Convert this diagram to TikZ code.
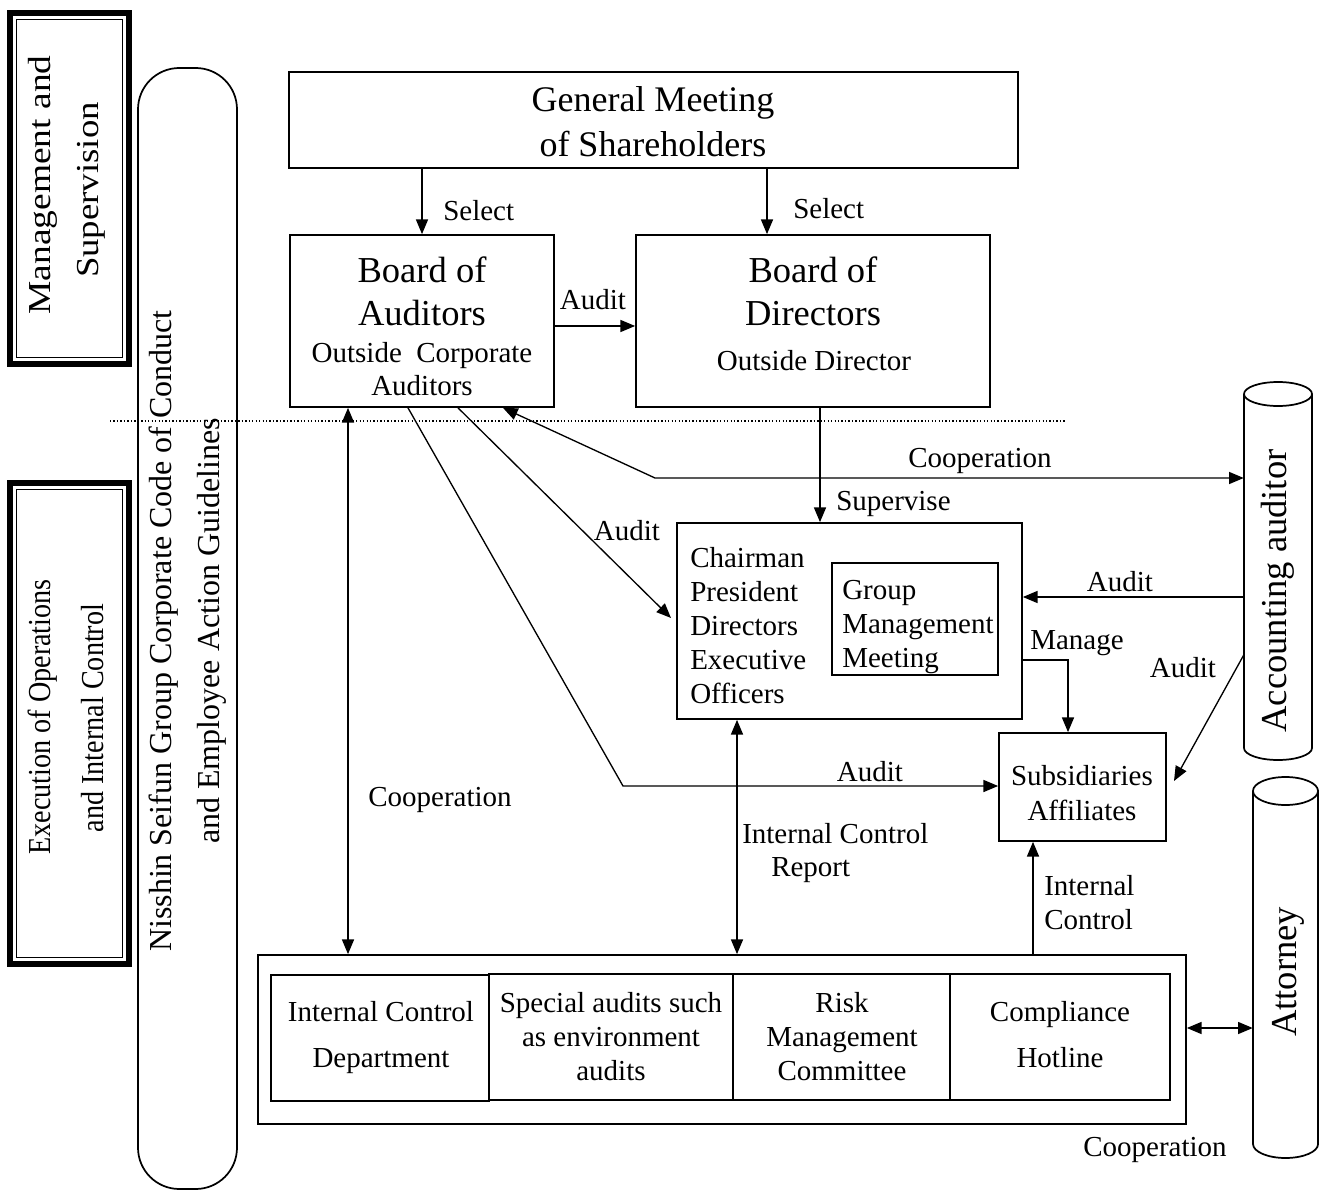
\documentclass[tikz,border=0pt]{standalone}
\usepackage{fontspec}
\setmainfont{Liberation Serif}
\usetikzlibrary{arrows.meta,fit}
\begin{document}
\begin{tikzpicture}[x=0.75pt,y=-0.75pt,
  box/.style={draw, line width=1.3pt, inner sep=0pt},
  conn/.style={line width=1pt},
  >={Triangle[length=11pt,width=9pt]},
  small/.style={font=\fontsize{21.75}{25.5}\selectfont, inner sep=0pt, align=center},
  large/.style={font=\fontsize{27.4}{33}\selectfont, inner sep=0pt, align=center},
  sidelbl/.style={font=\fontsize{24}{30}\selectfont, inner sep=0pt, rotate=90},
  cyl/.style={line width=1.3pt}
]
\useasboundingbox (0,0) rectangle (1321,1191);

% ---- left frames ----
\draw[line width=4.5pt] (10,13) rectangle (129,364);
\draw[line width=0.8pt] (16.5,19.5) rectangle (122.5,357.5);
\node[sidelbl] (mgmt1) at (43,185) {\scalebox{1.17}[1]{Management and}};
\node[sidelbl] (mgmt2) at (91,190) {\scalebox{1.15}[1]{Supervision}};

\draw[line width=4.5pt] (10,483) rectangle (129,964);
\draw[line width=0.8pt] (16.5,489.5) rectangle (122.5,957.5);
\node[sidelbl] (exec1) at (43,717) {\scalebox{0.88}[1]{Execution of Operations}};
\node[sidelbl] (exec2) at (93,718) {\scalebox{0.88}[1]{and Internal Control}};

% ---- rounded code-of-conduct box ----
\draw[line width=1.3pt, rounded corners=31pt] (138,68) rectangle (237,1189);
\node[sidelbl, align=center, font=\fontsize{24}{36}\selectfont] (code) at (188,631) {Nisshin Seifun Group Corporate Code of Conduct\\and Employee Action Guidelines};

% ---- dotted separator ----
\draw[line width=0.9pt, dash pattern=on 1pt off 1.6pt] (110,421) -- (1065,421);

% ---- main boxes ----
\node[box, fit={(289,72) (1018,168)}] (gms) {};
\node[large, font=\fontsize{27}{33.75}\selectfont] (gmst) at (653,122) {General Meeting\\of Shareholders};

\node[box, fit={(290,235) (554,407)}] (boa) {};
\node[large, font=\fontsize{27.4}{32.25}\selectfont] (boat) at (422,291) {Board of\\Auditors};
\node[small, font=\fontsize{21.75}{24.75}\selectfont] (boas) at (422,369) {Outside\ \ Corporate\\Auditors};

\node[box, fit={(636,235) (990,407)}] (bod) {};
\node[large, font=\fontsize{27.4}{32.25}\selectfont] (bodt) at (813,291) {Board of\\Directors};
\node[small] (bods) at (814,361) {Outside Director};

\node[box, fit={(677,523) (1022,719)}] (chair) {};
\node[small, align=left, anchor=west] (chairt) at (690,626) {Chairman\\President\\Directors\\Executive\\Officers};
\node[box, fit={(832,563) (998,675)}] (gmm) {};
\node[small, align=left, anchor=west] (gmmt) at (842,627) {Group\\Management\\Meeting};

\node[box, fit={(999,733) (1166,841)}] (sub) {};
\node[small, font=\fontsize{21.75}{26.25}\selectfont] (subt) at (1082,793) {Subsidiaries\\Affiliates};

% ---- bottom block ----
\node[box, fit={(258,955) (1186,1124)}] (bot) {};
\node[box, fit={(271,975) (489,1101)}] (icd) {};
\node[small, font=\fontsize{21.75}{34.5}\selectfont] (icdt) at (381,1038) {Internal Control\\Department};
\node[box, fit={(489,974) (733,1100)}] (spa) {};
\node[small] (spat) at (611,1037) {Special audits such\\as environment\\audits};
\node[box, fit={(733,974) (950,1100)}] (rmc) {};
\node[small] (rmct) at (842,1037) {Risk\\Management\\Committee};
\node[box, fit={(950,974) (1170,1100)}] (cmp) {};
\node[small, font=\fontsize{21.75}{34.5}\selectfont] (cmpt) at (1060,1035) {Compliance\\Hotline};

% ---- cylinders ----
\node[fit={(1244,382) (1312,760)}, inner sep=0pt] (acc) {};
\draw[cyl] (1244,394) -- (1244,748) arc[start angle=180, end angle=360, x radius=25.5pt, y radius=9pt] -- (1312,394);
\draw[cyl] (1278,394) ellipse [x radius=25.5pt, y radius=9pt];
\node[large, rotate=90] (acct) at (1278,591) {Accounting auditor};

\node[fit={(1253,777) (1318,1158)}, inner sep=0pt] (att) {};
\draw[cyl] (1253,791) -- (1253,1144) arc[start angle=180, end angle=360, x radius=24.4pt, y radius=10.5pt] -- (1318,791);
\draw[cyl] (1285.5,791) ellipse [x radius=24.4pt, y radius=10.5pt];
\node[large, rotate=90] (attt) at (1288,972) {Attorney};

% ---- connectors ----
\draw[conn,->] (422,0 |- gms.south) -- (422,0 |- boa.north);
\node[small, anchor=west] (sel1) at (443,211) {Select};
\draw[conn,->] (767,0 |- gms.south) -- (767,0 |- bod.north);
\node[small, anchor=west] (sel2) at (793,209) {Select};

\draw[conn,->] (boa.east |- 0,326) -- (bod.west |- 0,326);
\node[small] (aud1) at (593,300) {Audit};

\draw[conn,->] (820,0 |- bod.south) -- (820,0 |- chair.north);
\node[small, anchor=west] (supv) at (836,504) {Supervise};

\draw[conn,<->] (503,0 |- boa.south) -- (655,478) -- (acc.west |- 0,478);
\node[small] (coop1) at (980,461) {Cooperation};

\draw[conn,->] (458,0 |- boa.south) -- (671,618);
\node[small] (aud2) at (627,531) {Audit};

\draw[conn,->] (408,0 |- boa.south) -- (623,786) -- (sub.west |- 0,786);
\node[small] (aud3) at (870,772) {Audit};

\draw[conn,<->] (348,0 |- boa.south) -- (348,0 |- bot.north);
\node[small] (coop2) at (440,800) {Cooperation};

\draw[conn,<->] (737,0 |- chair.south) -- (737,0 |- bot.north);
\node[small, anchor=west] (icr1) at (742,834) {Internal Control};
\node[small, anchor=west] (icr2) at (771,870) {Report};

\draw[conn,->] (chair.east |- 0,660) -- (1068,660) -- (1068,0 |- sub.north);
\node[small, anchor=west] (mng) at (1030,643) {Manage};

\draw[conn,->] (acc.west |- 0,597) -- (chair.east |- 0,597);
\node[small] (aud4) at (1120,582) {Audit};

\draw[conn,->] (acc.west |- 0,655) -- (1174,781);
\node[small] (aud5) at (1183,668) {Audit};

\draw[conn,->] (1033,0 |- bot.north) -- (1033,0 |- sub.south);
\node[small, align=left, anchor=west] (ic) at (1044,903) {Internal\\Control};

\draw[conn,<->] (bot.east |- 0,1028) -- (att.west |- 0,1028);
\node[small] (coop3) at (1155,1150) {Cooperation};
\end{tikzpicture}
\end{document}
